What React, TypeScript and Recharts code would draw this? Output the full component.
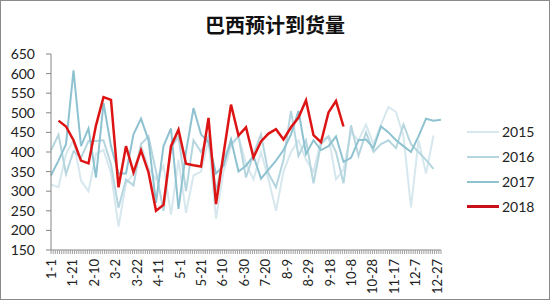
import { LineChart, Line, XAxis, YAxis, Legend } from "recharts";

// weekly points, day of year
const weekDays = [
  0, 7, 14, 21, 28, 35, 42, 49, 56, 63, 70, 77, 84, 91, 98, 105, 112, 119,
  126, 133, 140, 147, 154, 161, 168, 175, 182, 189, 196, 203, 210, 217, 224,
  231, 238, 245, 252, 259, 266, 273, 280, 287, 294, 301, 308, 315, 322, 329,
  336, 343, 350, 357, 364,
];

const tickDays = [0, 20, 40, 60, 80, 100, 120, 140, 160, 180, 200, 220, 240, 260, 280, 300, 320, 340, 360];
const tickLabels = [
  "1-1", "1-21", "2-10", "3-2", "3-22", "4-11", "5-1", "5-21", "6-10", "6-30",
  "7-20", "8-9", "8-29", "9-18", "10-8", "10-28", "11-17", "12-7", "12-27",
];
const yTicks = [150, 200, 250, 300, 350, 400, 450, 500, 550, 600, 650];

const s2015 = [
  317, 310, 395, 430, 327, 300, 395, 405, 345, 210, 320, 345, 418, 360, 330,
  365, 240, 380, 245, 340, 350, 430, 230, 350, 415, 440, 370, 330, 400, 330,
  250, 350, 400, 430, 380, 350, 430, 440, 330, 355, 450, 430, 470, 420, 470,
  515, 502, 440, 259, 430, 345, 442,
];
const s2016 = [
  404, 444, 344, 402, 385, 428, 428, 430, 368, 258, 330, 315, 420, 440, 350,
  250, 410, 440, 300, 430, 400, 440, 300, 385, 420, 440, 335, 395, 445, 345,
  310, 380, 505, 390, 430, 320, 420, 440, 400, 320, 468, 390, 450, 400, 420,
  430, 410, 470, 420, 400, 380, 357,
];
const s2017 = [
  340, 378, 420, 608, 415, 460, 335, 525, 415, 345, 345, 445, 485, 430, 270,
  415, 460, 255, 400, 512, 445, 425, 345, 365, 432, 350, 365, 390, 332, 355,
  378, 405, 445, 505, 395, 430, 405, 415, 440, 375, 385, 430, 432, 410, 465,
  450, 430, 415, 400, 440, 485, 480, 482,
];
const s2018 = [
  null, 480, 465, 430, 378, 371, 468, 540, 533, 310, 415, 348, 404, 348, 250,
  265, 415, 457, 370, 366, 363, 487, 267, 395, 521, 442, 463, 386, 427, 447,
  458, 432, 463, 488, 532, 443, 425, 501, 530, 465,
];

const series = [
  { key: "y2015", name: "2015", color: "#d6e8ee", width: 2 },
  { key: "y2016", name: "2016", color: "#b5d6df", width: 2 },
  { key: "y2017", name: "2017", color: "#8ec2d0", width: 2 },
  { key: "y2018", name: "2018", color: "#dd1414", width: 2.5 },
];

const data = weekDays.map((day, i) => ({
  day,
  y2015: s2015[i] ?? null,
  y2016: s2016[i] ?? null,
  y2017: s2017[i] ?? null,
  y2018: s2018[i] ?? null,
}));

// small tick marks every 2 days, labels only every 20 days
const minorTicks: number[] = [];
for (let d = 0; d <= 364; d += 2) minorTicks.push(d);

const XTick = (props: any) => {
  const { x, y, payload } = props;
  const idx = tickDays.indexOf(payload.value);
  if (idx < 0) return null;
  return (
    <text
      x={x}
      y={y}
      transform={`rotate(-90, ${x}, ${y})`}
      textAnchor="end"
      dominantBaseline="central"
      fontSize={13}
      fontFamily="Lato"
      fill="#222"
    >
      {tickLabels[idx]}
    </text>
  );
};

const LegendBox = () => (
  <div style={{ fontFamily: "Lato", fontSize: 14, color: "#222" }}>
    {series.map((s) => (
      <div key={s.key} style={{ display: "flex", alignItems: "center", height: 25 }}>
        <div style={{ width: 32, height: s.key === "y2018" ? 3 : 2, background: s.key === "y2018" ? "#c8101a" : s.color }} />
        <span style={{ marginLeft: 3 }}>{s.name}</span>
      </div>
    ))}
  </div>
);

export default function App() {
  return (
    <div
      style={{
        position: "absolute",
        left: 0,
        top: 0,
        width: 550,
        height: 300,
        border: "1px solid #8a8a8a",
        boxSizing: "border-box",
        background: "#fff",
      }}
    >
      <div
        style={{
          position: "absolute",
          left: -1,
          top: 12,
          width: 550,
          textAlign: "center",
          fontFamily: "Noto Sans CJK SC",
          fontWeight: "bold",
          fontSize: 20,
          lineHeight: "24px",
          color: "#111",
          zIndex: 2,
        }}
      >
        巴西预计到货量
      </div>
      <div style={{ position: "absolute", left: -1, top: -1 }}>
        <LineChart width={550} height={300} data={data} margin={{ top: 54, right: 109, bottom: 4, left: 8 }}>
          <XAxis
            dataKey="day"
            type="number"
            domain={[0, 364]}
            ticks={minorTicks}
            interval={0}
            tickSize={4}
            tickMargin={5}
            tick={<XTick />}
            axisLine={{ stroke: "#868686" }}
            tickLine={{ stroke: "#a0a0a0" }}
            height={46}
          />
          <YAxis
            domain={[150, 650]}
            ticks={yTicks}
            interval={0}
            tickSize={5}
            tickMargin={11}
            width={43}
            axisLine={{ stroke: "#868686" }}
            tickLine={{ stroke: "#868686" }}
            tick={{ fontSize: 14, fontFamily: "Lato", fill: "#222" }}
          />
          <Legend
            layout="vertical"
            align="center"
            verticalAlign="middle"
            wrapperStyle={{ left: 467, top: 119, width: 80 }}
            content={() => <LegendBox />}
          />
          {series.map((s) => (
            <Line
              key={s.key}
              dataKey={s.key}
              name={s.name}
              type="linear"
              stroke={s.color}
              strokeWidth={s.width}
              dot={false}
              activeDot={false}
              connectNulls={false}
              isAnimationActive={false}
            />
          ))}
        </LineChart>
      </div>
    </div>
  );
}
